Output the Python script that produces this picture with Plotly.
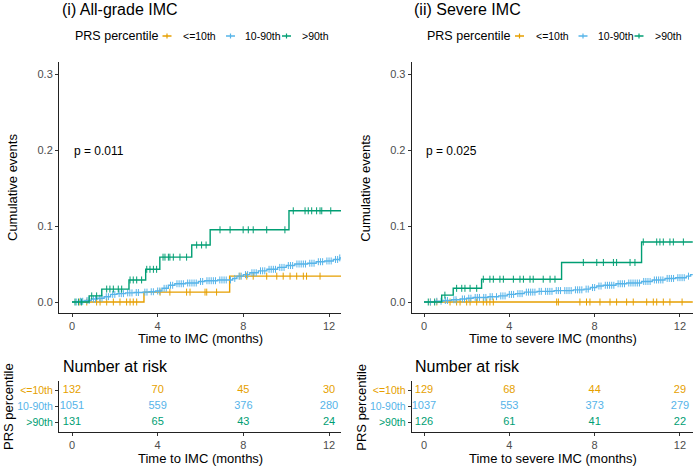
import numpy as np
import plotly.graph_objects as go

W, H = 700, 469
FONT = "Liberation Sans, Arial, sans-serif"

groups = ["<=10th", "10-90th", ">90th"]
colors = ["#E69F00", "#56B4E9", "#009E73"]
risk_times = [0, 4, 8, 12]

# ---------------- Panel (i) All-grade IMC ----------------
i_low_t = [0, 3.36, 7.36, 12.6]
i_low_y = [0, 0.013, 0.034, 0.034]
i_mid_t = [0, 0.3, 0.6, 0.9, 1.2, 1.5, 1.8, 2.1, 2.5, 2.9, 3.3, 3.6, 3.9, 4.2, 4.5, 4.8,
           5.3, 5.9, 6.2, 6.8, 7.5, 7.7, 8.0, 8.3, 8.7, 9.1, 9.6, 10.0, 10.4, 11.0, 11.4,
           11.8, 12.2, 12.5, 12.6]
i_mid_y = [0, 0.001, 0.002, 0.004, 0.005, 0.007, 0.010, 0.011, 0.012, 0.0125, 0.013,
           0.0135, 0.0145, 0.018, 0.022, 0.024, 0.025, 0.027, 0.028, 0.029, 0.031, 0.034,
           0.036, 0.0385, 0.041, 0.043, 0.0455, 0.048, 0.050, 0.051, 0.053, 0.054, 0.056,
           0.058, 0.058]
i_high_t = [0, 0.8, 1.39, 2.66, 3.44, 4.1, 5.59, 6.45, 10.13, 12.6]
i_high_y = [0, 0.008, 0.017, 0.029, 0.043, 0.059, 0.075, 0.095, 0.12, 0.12]

i_low_cens = [0.37, 0.69, 1.15, 1.31, 1.62, 1.93, 2.24, 2.55, 2.71, 2.86, 3.02, 4.11, 4.57,
              5.35, 5.51, 6.21, 6.29, 6.75, 7.84, 8.16, 8.46, 9.09, 9.56, 9.86, 10.18,
              10.49, 10.8, 10.95, 11.58]
i_mid_cens = [0.2, 0.4, 0.5, 0.7, 0.8, 1.0, 1.1, 1.3, 1.4, 1.6, 1.7, 1.9, 2.0, 2.2, 2.3,
              2.4, 2.6, 2.7, 2.8, 3.0, 3.1, 3.4, 3.5, 3.7, 3.8, 4.0, 4.1, 4.3, 4.4, 4.6,
              4.7, 4.9, 5.0, 5.1, 5.2, 5.4, 5.5, 5.6, 5.7, 5.8, 6.0, 6.1, 6.3, 6.4, 6.5,
              6.6, 6.7, 6.9, 7.0, 7.1, 7.2, 7.4, 7.6, 7.8, 7.9, 8.1, 8.2, 8.4, 8.5, 8.6,
              8.8, 8.9, 9.0, 9.2, 9.3, 9.4, 9.5, 9.7, 9.8, 9.9, 10.1, 10.2, 10.3, 10.5,
              10.6, 10.7, 10.8, 10.9, 11.1, 11.2, 11.3, 11.5, 11.6, 11.7, 11.9, 12.0,
              12.1, 12.3, 12.4, 12.5]
i_high_cens = [0.14, 0.3, 0.45, 0.92, 1.15, 1.62, 1.77, 1.93, 2.16, 2.32, 2.71, 2.86, 3.02,
               3.25, 3.49, 3.64, 3.8, 3.95, 4.25, 4.34, 4.5, 4.57, 4.73, 5.04, 5.35, 5.82,
               6.05, 6.26, 6.91, 7.38, 7.99, 8.23, 8.46, 9.09, 9.94, 10.33, 10.88, 11.03,
               11.19, 11.42, 11.58, 11.66, 12.08]

i_risk_low = [132, 70, 45, 30]
i_risk_mid = [1051, 559, 376, 280]
i_risk_high = [131, 65, 43, 24]

# ---------------- Panel (ii) Severe IMC ----------------
ii_low_t = [0, 12.6]
ii_low_y = [0, 0]
ii_mid_t = [0, 0.5, 0.9, 1.3, 1.7, 2.0, 2.3, 3.0, 3.5, 3.9, 4.3, 4.7, 5.3, 6.1, 7.0, 7.5,
            7.8, 8.1, 8.4, 9.0, 9.5, 10.2, 10.7, 11.3, 11.8, 12.3, 12.5, 12.6]
ii_mid_y = [0, 0.001, 0.002, 0.003, 0.004, 0.005, 0.006, 0.007, 0.008, 0.010, 0.011,
            0.013, 0.014, 0.015, 0.016, 0.017, 0.019, 0.021, 0.022, 0.024, 0.025, 0.027,
            0.029, 0.031, 0.032, 0.034, 0.036, 0.036]
ii_high_t = [0, 0.83, 1.37, 2.7, 6.45, 10.2, 12.6]
ii_high_y = [0, 0.009, 0.018, 0.030, 0.052, 0.079, 0.079]

ii_low_cens = [0.3, 0.6, 1.22, 1.53, 1.69, 2.0, 2.16, 2.47, 2.78, 2.94, 3.09, 3.25, 6.22,
               6.3, 7.31, 7.62, 7.78, 8.25, 8.72, 9.03, 9.5, 9.81, 10.44, 10.75, 10.91,
               11.22, 11.53, 12.1]
ii_mid_cens = [0.3, 0.6, 0.8, 1.0, 1.1, 1.4, 1.5, 1.8, 1.9, 2.1, 2.2, 2.4, 2.5, 2.6, 2.8,
               2.9, 3.1, 3.2, 3.4, 3.6, 3.7, 3.8, 4.0, 4.1, 4.2, 4.4, 4.5, 4.6, 4.8, 4.9,
               5.0, 5.1, 5.2, 5.4, 5.5, 5.7, 5.8, 5.9, 6.0, 6.2, 6.3, 6.4, 6.6, 6.7, 6.8,
               6.9, 7.1, 7.2, 7.3, 7.4, 7.6, 7.7, 7.9, 8.0, 8.2, 8.3, 8.5, 8.6, 8.7, 8.8,
               8.9, 9.1, 9.2, 9.3, 9.4, 9.6, 9.7, 9.8, 9.9, 10.0, 10.1, 10.3, 10.4, 10.5,
               10.6, 10.8, 10.9, 11.0, 11.1, 11.2, 11.4, 11.5, 11.6, 11.7, 11.9, 12.0,
               12.1, 12.2, 12.4]
ii_high_cens = [0.2, 0.5, 0.98, 1.53, 1.77, 1.92, 2.16, 2.47, 2.78, 3.09, 3.25, 3.56, 3.72,
                4.19, 4.5, 4.66, 4.97, 5.12, 5.59, 5.91, 6.14, 7.47, 8.1, 8.41, 8.88, 9.03,
                9.66, 9.89, 10.28, 10.91, 11.06, 11.22, 11.53, 11.69, 12.16]

ii_risk_low = [129, 68, 44, 29]
ii_risk_mid = [1037, 553, 373, 279]
ii_risk_high = [126, 61, 41, 22]

panels = [
    dict(title="(i) All-grade IMC", xlabel="Time to IMC (months)", p="p = 0.011",
         curves=[(i_low_t, i_low_y, i_low_cens), (i_mid_t, i_mid_y, i_mid_cens),
                 (i_high_t, i_high_y, i_high_cens)],
         risk=[i_risk_low, i_risk_mid, i_risk_high],
         px=(59, 341), t0px=72, pxpm=21.42),
    dict(title="(ii) Severe IMC", xlabel="Time to severe IMC (months)", p="p = 0.025",
         curves=[(ii_low_t, ii_low_y, ii_low_cens), (ii_mid_t, ii_mid_y, ii_mid_cens),
                 (ii_high_t, ii_high_y, ii_high_cens)],
         risk=[ii_risk_low, ii_risk_mid, ii_risk_high],
         px=(411.7, 693.3), t0px=424, pxpm=21.33),
]


def PX(x):
    return x / W


def PY(y):
    return 1 - y / H


def esc(s):
    return s.replace("<", "&lt;").replace(">", "&gt;")


fig = go.Figure()
annotations = []
shapes = []

main_top, main_bot = 62, 313
risk_top, risk_bot = 380.7, 432
y0px, ypp = 302, 760.0  # pixel of 0 and pixels per unit
yrange = [-(main_bot - y0px) / ypp, (y0px - main_top) / ypp]
row_vals = [3, 2, 1]

for k, pnl in enumerate(panels):
    xa_main = "x" if k == 0 else "x3"
    ya_main = "y" if k == 0 else "y3"
    xa_risk = "x2" if k == 0 else "x4"
    ya_risk = "y2" if k == 0 else "y4"
    l, r = pnl["px"]
    xr = [(l - pnl["t0px"]) / pnl["pxpm"], (r - pnl["t0px"]) / pnl["pxpm"]]
    cx = (l + r) / 2

    for g, (t, y, cens) in enumerate(pnl["curves"]):
        fig.add_trace(go.Scatter(x=t, y=y, mode="lines", line=dict(color=colors[g], width=1.4, shape="hv"),
                                 xaxis=xa_main, yaxis=ya_main, showlegend=False, hoverinfo="skip"))
        ta = np.array(t)
        ya = np.array(y)
        idx = np.searchsorted(ta, np.array(cens), side="right") - 1
        fig.add_trace(go.Scatter(x=cens, y=ya[idx], mode="markers",
                                 marker=dict(symbol="line-ns", size=5, color=colors[g],
                                             line=dict(width=1, color=colors[g])),
                                 xaxis=xa_main, yaxis=ya_main, showlegend=False, hoverinfo="skip"))
        fig.add_trace(go.Scatter(x=risk_times, y=[row_vals[g]] * 4, mode="text",
                                 text=[str(v) for v in pnl["risk"][g]],
                                 textfont=dict(color=colors[g], size=11, family=FONT),
                                 xaxis=xa_risk, yaxis=ya_risk, showlegend=False, hoverinfo="skip"))

    axis_common = dict(showline=True, linecolor="#222", linewidth=1.1, ticks="outside",
                       ticklen=3, tickcolor="#333", tickwidth=1, showgrid=False, zeroline=False,
                       tickfont=dict(size=11, color="#4D4D4D", family=FONT))
    xd = [PX(l), PX(r)]
    risk_y_axis = dict(axis_common)
    risk_y_axis["tickfont"] = dict(size=10.5, color="#4D4D4D", family=FONT)
    fig.update_layout(**{
        ("xaxis" if k == 0 else "xaxis3"): dict(domain=xd, range=xr, tickvals=risk_times,
                                               anchor=ya_main, **axis_common),
        ("yaxis" if k == 0 else "yaxis3"): dict(domain=[PY(main_bot), PY(main_top)], range=yrange,
                                               tickvals=[0, 0.1, 0.2, 0.3],
                                               ticktext=["0.0", "0.1", "0.2", "0.3"],
                                               anchor=xa_main, **axis_common),
        ("xaxis2" if k == 0 else "xaxis4"): dict(domain=xd, range=xr, tickvals=risk_times,
                                                anchor=ya_risk, **axis_common),
        ("yaxis2" if k == 0 else "yaxis4"): dict(domain=[PY(risk_bot), PY(risk_top)],
                                                range=[0.38, 3.63], tickvals=row_vals,
                                                ticktext=['<span style="color:%s">%s</span>'
                                                          % (colors[g], esc(groups[g]))
                                                          for g in range(3)],
                                                anchor=xa_risk, **risk_y_axis),
    })

    # titles and labels
    annotations.append(dict(x=PX(l + 0.5), y=PY(10), xref="paper", yref="paper", text=pnl["title"],
                            showarrow=False, xanchor="left", yanchor="middle",
                            font=dict(size=16, color="black", family=FONT)))
    annotations.append(dict(x=PX(pnl["t0px"]), y=PY(150.7), xref="paper", yref="paper", text=pnl["p"],
                            showarrow=False, xanchor="left", yanchor="middle",
                            font=dict(size=12, color="black", family=FONT)))
    annotations.append(dict(x=PX(cx), y=PY(338.5), xref="paper", yref="paper", text=pnl["xlabel"],
                            showarrow=False, xanchor="center", yanchor="middle",
                            font=dict(size=13, color="black", family=FONT)))
    annotations.append(dict(x=PX(cx), y=PY(458), xref="paper", yref="paper", text=pnl["xlabel"],
                            showarrow=False, xanchor="center", yanchor="middle",
                            font=dict(size=13, color="black", family=FONT)))
    annotations.append(dict(x=PX(l + 1.5), y=PY(366), xref="paper", yref="paper", text="Number at risk",
                            showarrow=False, xanchor="left", yanchor="middle",
                            font=dict(size=16, color="black", family=FONT)))
    annotations.append(dict(x=PX(l - 47), y=PY(188), xref="paper", yref="paper", text="Cumulative events",
                            showarrow=False, xanchor="center", yanchor="middle", textangle=-90,
                            font=dict(size=13, color="black", family=FONT)))
    annotations.append(dict(x=PX(l - 51), y=PY(407), xref="paper", yref="paper", text="PRS percentile",
                            showarrow=False, xanchor="center", yanchor="middle", textangle=-90,
                            font=dict(size=13, color="black", family=FONT)))

    # legend (drawn as text + small glyphs, centred over the panel)
    ly = 36
    annotations.append(dict(x=PX(cx - 127.3), y=PY(ly), xref="paper", yref="paper", text="PRS percentile",
                            showarrow=False, xanchor="left", yanchor="middle",
                            font=dict(size=12.5, color="black", family=FONT)))
    glyph_off = [-33, 30.5, 86.5]
    label_off = [-19, 43, 100]
    for g in range(3):
        gx = cx + glyph_off[g]
        shapes.append(dict(type="line", xref="paper", yref="paper", x0=PX(gx - 4.5), x1=PX(gx + 4.5),
                           y0=PY(ly), y1=PY(ly), line=dict(color=colors[g], width=1.5)))
        shapes.append(dict(type="line", xref="paper", yref="paper", x0=PX(gx), x1=PX(gx),
                           y0=PY(ly - 2.5), y1=PY(ly + 2.5), line=dict(color=colors[g], width=1.2)))
        annotations.append(dict(x=PX(cx + label_off[g]), y=PY(ly), xref="paper", yref="paper",
                                text=esc(groups[g]),
                                showarrow=False, xanchor="left", yanchor="middle",
                                font=dict(size=10.5, color="black", family=FONT)))

fig.update_layout(width=W, height=H, margin=dict(l=0, r=0, t=0, b=0),
                  paper_bgcolor="white", plot_bgcolor="white",
                  annotations=annotations, shapes=shapes,
                  font=dict(family=FONT))
fig.write_html("out.html", config={"displayModeBar": False},
               post_script="document.body.style.margin='0';document.body.style.overflow='hidden';")
